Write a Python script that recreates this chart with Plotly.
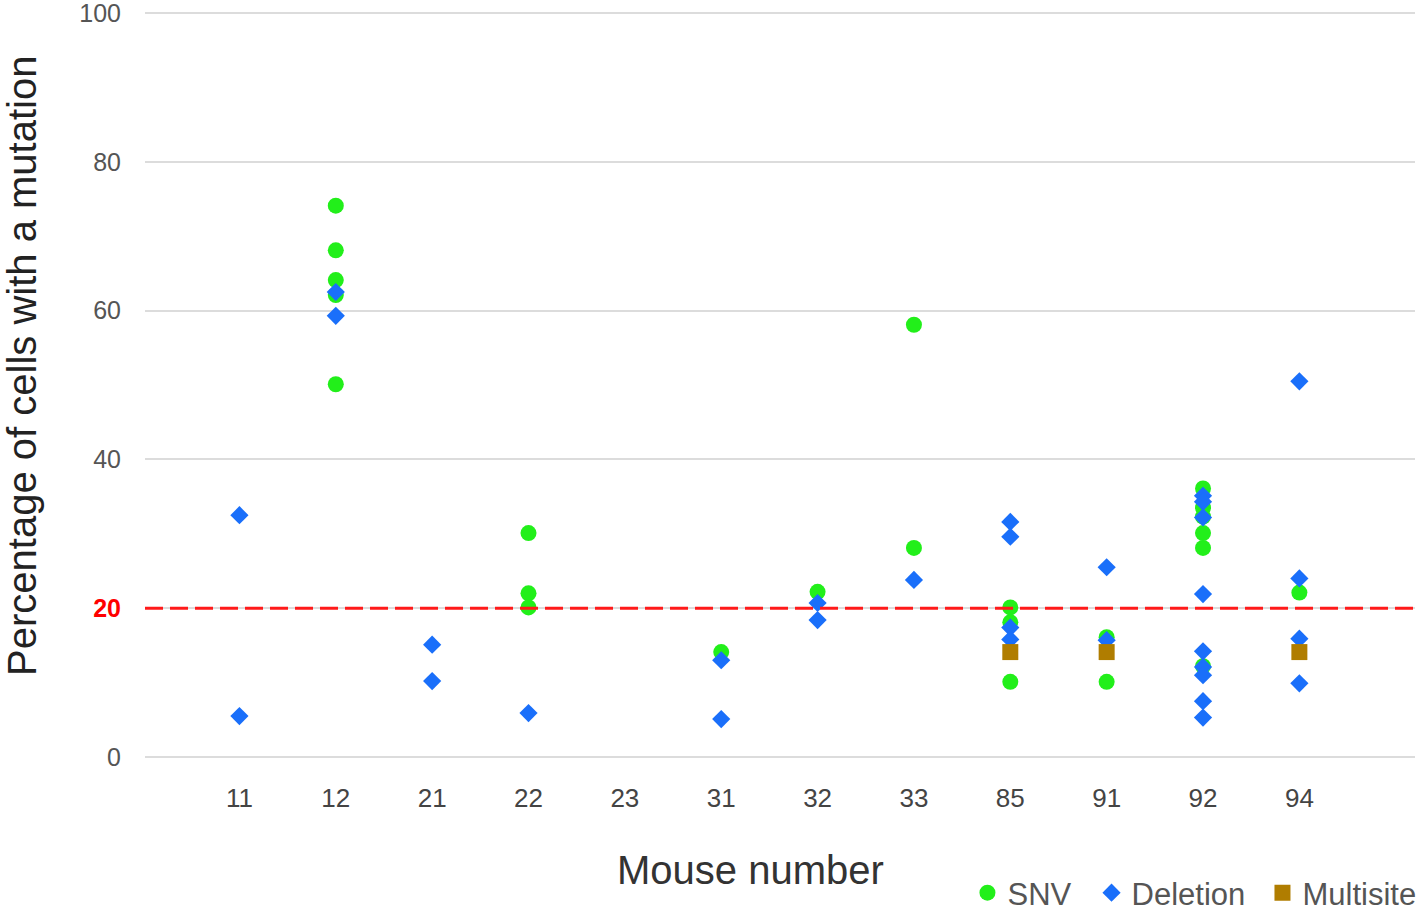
import plotly.graph_objects as go

mice = ["11", "12", "21", "22", "23", "31", "32", "33", "85", "91", "92", "94"]

snv_mouse = ["12", "12", "12", "12", "12", "22", "22", "22", "31", "32", "33", "33",
             "85", "85", "85", "91", "91", "92", "92", "92", "92", "92", "92", "94"]
snv_pct = [74.1, 68.1, 64.1, 62.1, 50.1, 30.1, 22.0, 20.1, 14.1, 22.2, 58.1, 28.1,
           20.1, 18.1, 10.1, 16.1, 10.1, 36.1, 33.5, 32.3, 30.1, 28.1, 12.2, 22.1]

del_mouse = ["11", "11", "12", "12", "21", "21", "22", "31", "31", "32", "32", "33",
             "85", "85", "85", "85", "91", "91",
             "92", "92", "92", "92", "92", "92", "92", "92", "92",
             "94", "94", "94", "94"]
del_pct = [32.5, 5.5, 62.5, 59.3, 15.1, 10.2, 5.9, 13.0, 5.1, 20.7, 18.4, 23.8,
           31.6, 29.6, 17.4, 15.8, 25.5, 15.7,
           35.1, 34.3, 32.2, 21.9, 14.2, 12.1, 11.0, 7.5, 5.3,
           50.5, 24.0, 15.9, 9.9]

multi_mouse = ["85", "91", "94"]
multi_pct = [14.1, 14.1, 14.1]

threshold = 20
y_ticks = [0, 20, 40, 60, 80, 100]
y_ticktext = ["0", "<b><span style='color:#ff0000'>20</span></b>", "40", "60", "80", "100"]

FONT = "Liberation Sans, Arial, sans-serif"
fig = go.Figure()
fig.add_trace(go.Scatter(x=snv_mouse, y=snv_pct, mode="markers", name="SNV",
                         marker=dict(symbol="circle", size=16, color="#22ef1a"),
                         cliponaxis=False, legend="legend"))
fig.add_trace(go.Scatter(x=del_mouse, y=del_pct, mode="markers", name="Deletion",
                         marker=dict(symbol="diamond", size=14, color="#1a6ffa"),
                         cliponaxis=False, legend="legend2"))
fig.add_trace(go.Scatter(x=multi_mouse, y=multi_pct, mode="markers", name="Multisite",
                         marker=dict(symbol="square", size=16, color="#b07d00"),
                         cliponaxis=False, legend="legend3"))

fig.add_shape(type="line", xref="paper", yref="y", x0=0, x1=1.003, y0=threshold, y1=threshold,
              line=dict(color="#ff1a1a", width=3, dash="18px,7px"))

leg_common = dict(orientation="h", yanchor="middle", y=-0.176,
                  font=dict(size=31, color="#555555"), bgcolor="rgba(0,0,0,0)",
                  borderwidth=0)

fig.update_layout(
    width=1419, height=916,
    margin=dict(l=145, r=4, t=11, b=155, autoexpand=False),
    paper_bgcolor="white", plot_bgcolor="white",
    font=dict(family=FONT, size=25, color="#555555"),
    showlegend=True,
    legend=dict(x=0.6476, xanchor="left", **leg_common),
    legend2=dict(x=0.7453, xanchor="left", **leg_common),
    legend3=dict(x=0.8799, xanchor="left", **leg_common),
    xaxis=dict(type="category", categoryorder="array", categoryarray=mice,
               tickvals=mice, ticktext=mice, range=[-0.98, 12.2],
               showgrid=False, zeroline=False, showline=False,
               ticks="outside", ticklen=14, tickcolor="rgba(0,0,0,0)",
               tickfont=dict(size=26, color="#444444")),
    yaxis=dict(range=[-0.54, 100.27], tickvals=y_ticks, ticktext=y_ticktext,
               showgrid=True, gridcolor="#dcdcdc", gridwidth=1.5, zeroline=False,
               showline=False, ticks="outside", ticklen=18, tickcolor="rgba(0,0,0,0)",
               ticklabeloverflow="allow",
               tickfont=dict(size=25, color="#555555")),
    annotations=[
        dict(text="Percentage of cells with a mutation", xref="paper", yref="paper",
             x=-0.0969, y=0.5267, xanchor="center", yanchor="middle", textangle=-90,
             showarrow=False, font=dict(size=40, color="#222222")),
        dict(text="Mouse number", xref="paper", yref="paper",
             x=0.4768, y=-0.1453, xanchor="center", yanchor="middle",
             showarrow=False, font=dict(size=40, color="#333333")),
    ],
)

fig.write_html("out.html", config={"displayModeBar": False},
               post_script="document.body.style.margin='0px';")
